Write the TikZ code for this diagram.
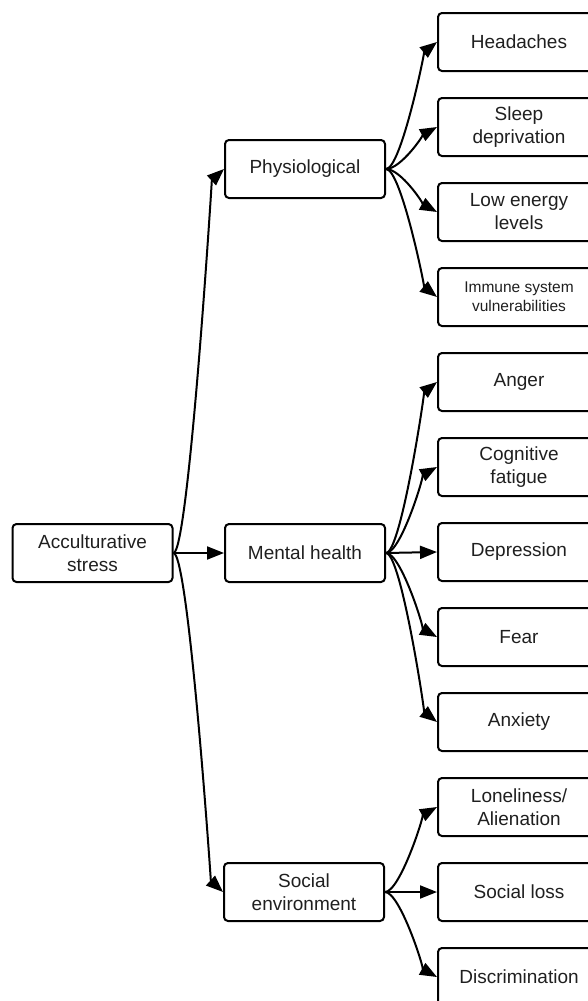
\documentclass[tikz,border=0pt]{standalone}
\usepackage{fontspec}
\setmainfont{Liberation Sans}
\usetikzlibrary{arrows.meta}
\begin{document}
\begin{tikzpicture}[x=1pt,y=-1pt,
  box/.style={draw,line width=2pt,rounded corners=4pt,minimum width=160pt,minimum height=58pt,align=center,font=\fontsize{19}{23}\selectfont,text=black!88,inner sep=0pt},
  rbox/.style={box,minimum width=162pt},
  arr/.style={line width=2pt,-{Triangle[length=17pt,width=13pt]}},
]
\useasboundingbox (0,0) rectangle (588,1001);
\clip (0,0) rectangle (588,1001);
\node[box] (acc) at (92.5,553) {Acculturative\\stress};
\node[box] (phy) at (305,169) {Physiological};
\node[box] (men) at (305,553) {Mental health};
\node[box] (soc) at (304,892) {Social\\environment};
\node[rbox] (r1) at (519,42) {Headaches};
\node[rbox] (r2) at (519,127) {Sleep\\deprivation};
\node[rbox] (r3) at (519,212) {Low energy\\levels};
\node[rbox,font=\fontsize{15.5}{19}\selectfont] (r4) at (519,297) {Immune system\\vulnerabilities};
\node[rbox] (r5) at (519,382) {Anger};
\node[rbox] (r6) at (519,467) {Cognitive\\fatigue};
\node[rbox] (r7) at (519,552) {Depression};
\node[rbox] (r8) at (519,637) {Fear};
\node[rbox] (r9) at (519,722) {Anxiety};
\node[rbox] (r10) at (519,807) {Loneliness/\\Alienation};
\node[rbox] (r11) at (519,892) {Social loss};
\node[rbox] (r12) at (519,977) {Discrimination};
% level 1
\draw[arr] (acc.east) .. controls +(15,0) and +(-12,11) .. (phy.west);
\draw[arr] (acc.east) .. controls +(15,0) and +(-12,-11) .. (soc.west);
\draw[arr] (acc.east) -- (men.west);
% physiological
\draw[arr] (phy.east) .. controls +(15,0) and +(-12,9.5) .. (r1.west);
\draw[arr] (phy.east) .. controls +(15,0) and +(-12,6.6) .. (r2.west);
\draw[arr] (phy.east) .. controls +(15,0) and +(-12,-6.6) .. (r3.west);
\draw[arr] (phy.east) .. controls +(15,0) and +(-12,-9.5) .. (r4.west);
% mental health
\draw[arr] (men.east) .. controls +(15,0) and +(-12,9.5) .. (r5.west);
\draw[arr] (men.east) .. controls +(15,0) and +(-12,6.6) .. (r6.west);
\draw[arr] (men.east) -- (r7.west);
\draw[arr] (men.east) .. controls +(15,0) and +(-12,-6.6) .. (r8.west);
\draw[arr] (men.east) .. controls +(15,0) and +(-12,-9.5) .. (r9.west);
% social
\draw[arr] (soc.east) .. controls +(15,0) and +(-12,6.6) .. (r10.west);
\draw[arr] (soc.east) -- (r11.west);
\draw[arr] (soc.east) .. controls +(15,0) and +(-12,-6.6) .. (r12.west);
\end{tikzpicture}
\end{document}
